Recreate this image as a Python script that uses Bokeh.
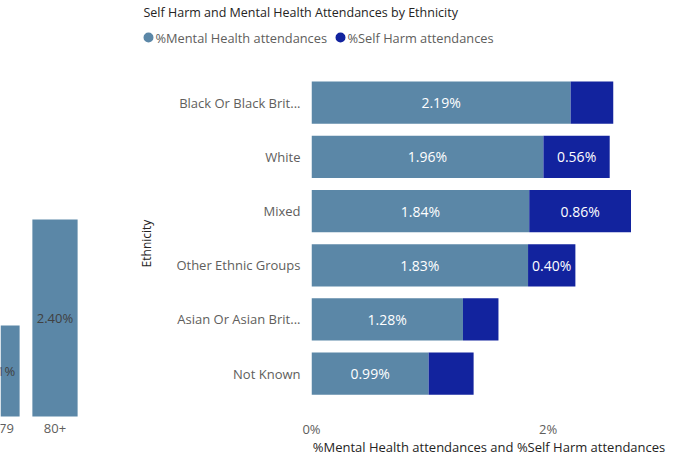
from bokeh.plotting import figure
from bokeh.models import ColumnDataSource, Range1d, FixedTicker, PrintfTickFormatter
from bokeh.layouts import row, column
from bokeh.embed import file_html
from bokeh.resources import INLINE
from bokeh.core.properties import value

FONT = "Open Sans"

# ---- left (partially visible) chart data ----
age_groups = ["75-79", "80+"]
age_values = [1.11, 2.40]

# ---- main chart data ----
chart_title = "Self Harm and Mental Health Attendances by Ethnicity"
series_names = ["%Mental Health attendances", "%Self Harm attendances"]
ethnicity = ["Black Or Black Brit...", "White", "Mixed", "Other Ethnic Groups",
             "Asian Or Asian Brit...", "Not Known"]
mental_health = [2.19, 1.96, 1.84, 1.83, 1.28, 0.99]
self_harm = [0.36, 0.56, 0.86, 0.40, 0.30, 0.38]
x_ticks = [0, 2]

MH_COLOR = "#5B87A7"
SH_COLOR = "#12239E"
AXIS_GREY = "#605E5C"
DARK = "#252423"


def bare(fig):
    fig.xgrid.visible = False
    fig.ygrid.visible = False
    fig.outline_line_color = None


def style_axis(ax, size="13px"):
    ax.axis_line_color = None
    ax.major_tick_line_color = None
    ax.minor_tick_line_color = None
    ax.major_tick_out = 0
    ax.major_tick_in = 0
    ax.minor_tick_out = 0
    ax.minor_tick_in = 0
    ax.major_label_text_font = FONT
    ax.major_label_text_font_size = size
    ax.major_label_text_color = AXIS_GREY
    ax.axis_label_text_font = FONT
    ax.axis_label_text_font_size = "13px"
    ax.axis_label_text_font_style = "normal"
    ax.axis_label_text_color = DARK


# ================= left figure (full height, frame covers all) =================
left = figure(width=130, height=468, x_range=Range1d(0.0603, 2.302),
              y_range=Range1d(-0.633, 5.067), output_backend="svg",
              toolbar_location=None, min_border=0)
lsrc = ColumnDataSource(dict(
    x=list(range(len(age_groups))),
    top=age_values,
    mid=[v / 2 for v in age_values],
    lab=[f"{v:.2f}%" for v in age_values],
    cat=age_groups,
))
left.vbar(x="x", top="top", bottom=0, width=0.78, source=lsrc,
          fill_color=MH_COLOR, line_color=None)
left.text(x="x", y="mid", text="lab", source=lsrc, text_align="center",
          text_baseline="middle", text_font=value(FONT), text_font_size="13px",
          text_color="#404040")
# category labels under the bars
left.text(x="x", y=-0.146, text="cat", source=lsrc, text_align="center",
          text_baseline="middle", text_font=value(FONT), text_font_size="13px",
          text_color=AXIS_GREY)
left.axis.visible = False
bare(left)

# ================= header (title + legend) =================
header = figure(width=562, height=50, x_range=Range1d(130, 692), y_range=Range1d(50, 0),
                output_backend="svg", toolbar_location=None, min_border=0)
header.axis.visible = False
bare(header)
header.text(x=[143], y=[12], text=[chart_title], text_font=value(FONT),
            text_font_size="12.5px", text_color=DARK, text_baseline="middle",
            text_align="left")
leg_x = [148, 340]
header.scatter(x=leg_x, y=[37, 37], marker="circle", size=10,
               fill_color=[MH_COLOR, SH_COLOR], line_color=None)
header.text(x=[x + 7 for x in leg_x], y=[37, 37], text=series_names,
            text_font=value(FONT), text_font_size="12.8px", text_color=AXIS_GREY,
            text_baseline="middle", text_align="left")

# ================= main figure =================
n = len(ethnicity)
ypos = list(range(n - 1, -1, -1))
totals = [m + s for m, s in zip(mental_health, self_harm)]
src = ColumnDataSource(dict(
    y=ypos,
    mh=mental_health,
    sh=self_harm,
    tot=totals,
    mh_mid=[m / 2 for m in mental_health],
    sh_mid=[m + s / 2 for m, s in zip(mental_health, self_harm)],
    mh_lab=[f"{m:.2f}%" for m in mental_health],
    sh_lab=[f"{s:.2f}%" if s >= 0.40 else "" for s in self_harm],
))

p = figure(width=562, height=418, x_range=Range1d(0, 3.0),
           y_range=Range1d(-0.79, 5.594), output_backend="svg",
           toolbar_location=None, min_border_left=181, min_border_right=26,
           min_border_top=20, min_border_bottom=52)
p.hbar(y="y", left=0, right="mh", height=0.78, source=src,
       fill_color=MH_COLOR, line_color=None)
p.hbar(y="y", left="mh", right="tot", height=0.78, source=src,
       fill_color=SH_COLOR, line_color=None)
p.text(x="mh_mid", y="y", text="mh_lab", source=src, text_align="center",
       text_baseline="middle", text_font=value(FONT), text_font_size="14px",
       text_color="white")
p.text(x="sh_mid", y="y", text="sh_lab", source=src, text_align="center",
       text_baseline="middle", text_font=value(FONT), text_font_size="14px",
       text_color="white")
bare(p)

style_axis(p.yaxis)
p.yaxis.ticker = FixedTicker(ticks=ypos)
p.yaxis.major_label_overrides = {y: e for y, e in zip(ypos, ethnicity)}
p.yaxis.major_label_standoff = 11
p.yaxis.axis_label = "Ethnicity"
p.yaxis.axis_label_text_font_size = "12px"
p.yaxis.axis_label_standoff = 18

style_axis(p.xaxis)
p.xaxis.ticker = FixedTicker(ticks=x_ticks)
p.xaxis.formatter = PrintfTickFormatter(format="%d%%")
p.xaxis.major_label_standoff = 3
p.xaxis.axis_label = "%Mental Health attendances and %Self Harm attendances"
p.xaxis.axis_label_standoff = -3

layout = row(left, column(row(header), p))
open("out.html", "w").write(file_html(layout, INLINE))
